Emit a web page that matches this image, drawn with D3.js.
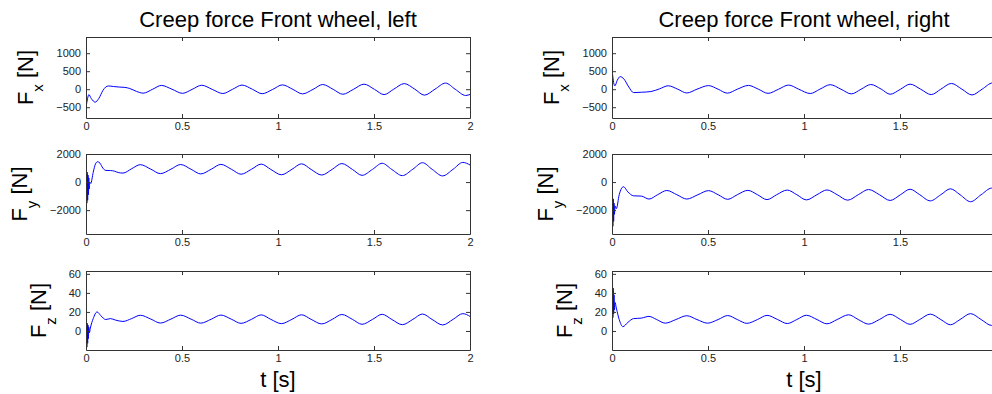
<!DOCTYPE html>
<html><head><meta charset="utf-8">
<script src="https://cdn.jsdelivr.net/npm/d3@7"></script>
<style>
html,body{margin:0;padding:0;background:#fff;overflow:hidden;}
svg{display:block;font-family:"Liberation Sans",Arial,Helvetica,sans-serif;}
</style></head><body>
<svg id="chart" width="992" height="394"></svg>
<script>
// ---------- data ----------
const titles = ["Creep force Front wheel, left", "Creep force Front wheel, right"];
const xLabel = "t [s]";
const yComponents = ["x", "y", "z"];
const yUnit = "[N]";
const xDomain = [0, 2];
const xTicks = [0, 0.5, 1, 1.5, 2];
const yTicksFx = [-500, 0, 500, 1000];
const yTicksFy = [-2000, 0, 2000];
const yTicksFz = [0, 20, 40, 60];
const yDomainFx = [-800, 1450];
const yDomainFy = [-3700, 2000];
const yDomainFz = [-20, 63];

// [t (s), force (N)]
const leftFx = [[0,-420],[0.006,-250],[0.012,-150],[0.025,-260],[0.045,-360],[0.065,-250],[0.085,-40],[0.1,60],[0.115,90],[0.14,75],[0.17,60],[0.2,50],[0.225,20],[0.26,-60],[0.295,-110],[0.345,0],[0.39,105],[0.445,0],[0.5,-115],[0.55,-5],[0.6,110],[0.655,-5],[0.71,-120],[0.76,-5],[0.81,115],[0.865,-5],[0.915,-125],[0.97,-5],[1.02,120],[1.075,-5],[1.125,-130],[1.18,-5],[1.23,130],[1.285,-5],[1.335,-140],[1.39,-5],[1.445,140],[1.5,-5],[1.55,-150],[1.6,0],[1.655,155],[1.71,0],[1.76,-165],[1.815,0],[1.87,170],[1.92,0],[1.975,-175],[2.0,-140]];
const leftFy = [[0,900],[0.002,-1500],[0.004,700],[0.006,-1300],[0.008,500],[0.010,-900],[0.012,300],[0.014,-500],[0.017,0],[0.022,-100],[0.035,700],[0.047,1300],[0.058,1450],[0.07,1350],[0.085,1000],[0.1,830],[0.125,820],[0.145,780],[0.165,680],[0.19,640],[0.235,950],[0.28,1240],[0.335,920],[0.385,600],[0.44,920],[0.49,1250],[0.545,910],[0.595,580],[0.65,920],[0.70,1260],[0.755,910],[0.805,560],[0.86,920],[0.91,1280],[0.96,900],[1.015,520],[1.07,910],[1.12,1300],[1.17,900],[1.225,500],[1.28,910],[1.33,1320],[1.385,900],[1.435,480],[1.49,910],[1.54,1340],[1.59,900],[1.645,460],[1.70,920],[1.75,1380],[1.80,910],[1.855,440],[1.91,920],[1.96,1400],[2.0,1200]];
const leftFz = [[0,11],[0.002,-17],[0.004,8],[0.006,-13],[0.008,6],[0.010,-8],[0.012,4],[0.015,-2],[0.02,3],[0.035,13],[0.055,20],[0.075,16],[0.1,12],[0.125,13],[0.15,11.5],[0.19,10],[0.235,13],[0.28,16.5],[0.335,12.5],[0.385,8.3],[0.44,12.5],[0.49,16.6],[0.545,12.4],[0.595,8.2],[0.65,12.4],[0.70,16.7],[0.755,12.3],[0.805,8],[0.86,12.3],[0.91,16.9],[0.96,12.2],[1.015,7.7],[1.07,12.2],[1.12,17],[1.17,12.2],[1.225,7.4],[1.28,12.2],[1.33,17.3],[1.385,12.2],[1.435,7],[1.49,12.2],[1.54,17.5],[1.59,12.1],[1.645,6.6],[1.70,12.2],[1.75,17.8],[1.80,12.1],[1.855,6.3],[1.91,12.3],[1.96,18.2],[2.0,15]];
const rightFx = [[0,430],[0.004,250],[0.012,90],[0.025,250],[0.04,350],[0.06,280],[0.085,60],[0.11,-95],[0.15,-85],[0.2,-65],[0.245,10],[0.29,95],[0.34,0],[0.387,-105],[0.44,0],[0.5,100],[0.55,0],[0.598,-110],[0.65,0],[0.708,105],[0.76,0],[0.81,-115],[0.865,0],[0.917,115],[0.97,0],[1.03,-120],[1.08,0],[1.134,125],[1.19,0],[1.244,-130],[1.295,0],[1.345,130],[1.4,0],[1.446,-140],[1.5,0],[1.55,140],[1.605,0],[1.66,-150],[1.71,0],[1.765,160],[1.82,0],[1.872,-160],[1.925,0],[1.98,175],[2.0,160]];
const rightFy = [[0,-800],[0.002,-3150],[0.004,-1200],[0.006,-2800],[0.008,-1500],[0.010,-2300],[0.013,-1700],[0.02,-1900],[0.035,-900],[0.057,-330],[0.08,-700],[0.11,-980],[0.15,-1000],[0.19,-1210],[0.235,-900],[0.283,-600],[0.335,-900],[0.387,-1210],[0.445,-900],[0.5,-610],[0.55,-900],[0.6,-1230],[0.65,-900],[0.705,-590],[0.755,-900],[0.805,-1250],[0.855,-900],[0.91,-570],[0.96,-900],[1.01,-1270],[1.065,-900],[1.117,-560],[1.17,-900],[1.225,-1290],[1.28,-900],[1.334,-530],[1.39,-900],[1.446,-1310],[1.5,-900],[1.55,-510],[1.6,-900],[1.655,-1340],[1.71,-900],[1.76,-480],[1.81,-900],[1.865,-1400],[1.92,-900],[1.975,-430],[2.0,-480]];
const rightFz = [[0,55],[0.002,14],[0.004,45],[0.006,18],[0.008,38],[0.010,22],[0.013,30],[0.02,24],[0.035,12],[0.054,4.5],[0.08,9],[0.11,13],[0.15,13.5],[0.19,15.3],[0.23,12],[0.275,8.2],[0.33,12],[0.387,16],[0.44,12],[0.495,8.2],[0.55,12],[0.6,16.2],[0.65,12],[0.7,8],[0.755,12],[0.805,16.4],[0.86,12],[0.91,7.8],[0.96,12],[1.01,16.5],[1.065,12],[1.117,7.5],[1.17,12],[1.23,17],[1.28,12],[1.334,7.2],[1.39,12],[1.446,17.5],[1.5,12],[1.55,7],[1.6,12],[1.655,17.7],[1.71,12],[1.76,6.5],[1.81,12],[1.865,18.2],[1.92,12],[1.975,5.8],[2.0,6.5]];

// ---------- layout ----------
const W = 992;
const svg = d3.select("#chart");
const cols = [{x0: 86, x1: 470}, {x0: 612, x1: 996}];
const rows = [
  {y0: 37, y1: 118, domain: yDomainFx, ticks: yTicksFx, labelOff: 53},
  {y0: 154, y1: 234, domain: yDomainFy, ticks: yTicksFy, labelOff: 59},
  {y0: 271, y1: 350, domain: yDomainFz, ticks: yTicksFz, labelOff: 40}
];
const series = [[leftFx, leftFy, leftFz], [rightFx, rightFy, rightFz]];
const axisColor = "#333";
const textColor = "#222";

cols.forEach((c, ci) => {
  const x = d3.scaleLinear().domain(xDomain).range([c.x0 + 0.5, c.x1 + 0.5]);
  const xa = d3.scaleLinear().domain(xDomain).range([c.x0, c.x1]);
  // tick labels only where they fit inside the picture
  const labelled = xTicks.filter(v => xa(v) + 6 < W);
  rows.forEach((r, ri) => {
    const y = d3.scaleLinear().domain(r.domain).range([r.y1, r.y0]);
    const g = svg.append("g");
    const clipId = `clip-${ci}-${ri}`;
    svg.append("clipPath").attr("id", clipId).append("rect")
      .attr("x", c.x0).attr("y", r.y0).attr("width", c.x1 - c.x0).attr("height", r.y1 - r.y0 + 1);

    const styleAxis = sel => {
      sel.selectAll("path,line").attr("stroke", axisColor);
      sel.selectAll("text").attr("fill", textColor).attr("font-size", 11)
        .attr("font-family", '"Liberation Sans",Arial,Helvetica,sans-serif');
    };
    const fmt = d3.format("");
    g.append("g").attr("transform", `translate(0,${r.y1})`)
      .call(d3.axisBottom(xa).tickValues(xTicks).tickFormat(v => labelled.includes(v) ? fmt(v) : "")
        .tickSizeInner(-4).tickSizeOuter(0).tickPadding(4))
      .call(styleAxis);
    g.append("g").attr("transform", `translate(0,${r.y0})`)
      .call(d3.axisTop(xa).tickValues(xTicks).tickFormat("").tickSizeInner(-4).tickSizeOuter(0))
      .call(styleAxis);

    const line = d3.line().x(d => x(d[0])).y(d => y(d[1])).curve(d3.curveMonotoneX);
    g.append("path").datum(series[ci][ri])
      .attr("clip-path", `url(#${clipId})`)
      .attr("fill", "none").attr("stroke", "#0000ff").attr("stroke-width", 1)
      .attr("d", line);

    g.append("g").attr("transform", `translate(${c.x0},0)`)
      .call(d3.axisLeft(y).tickValues(r.ticks).tickFormat(fmt).tickSizeInner(-4).tickSizeOuter(0).tickPadding(5))
      .call(styleAxis);
    g.append("g").attr("transform", `translate(${c.x1},0)`)
      .call(d3.axisRight(y).tickValues(r.ticks).tickFormat("").tickSizeInner(-4).tickSizeOuter(0))
      .call(styleAxis);

    // y label
    const cy = (r.y0 + r.y1) / 2;
    const t = g.append("text")
      .attr("transform", `translate(${c.x0 - r.labelOff},${cy}) rotate(-90)`)
      .attr("text-anchor", "middle").attr("font-size", 22).attr("fill", "#000");
    t.append("tspan").text("F");
    t.append("tspan").attr("font-size", 15).attr("dy", 10).text(yComponents[ri]);
    t.append("tspan").attr("dy", -10).text("\u00a0" + yUnit);
  });
  const cx = (c.x0 + c.x1) / 2;
  svg.append("text").attr("x", cx).attr("y", 27).attr("text-anchor", "middle")
    .attr("font-size", 22).attr("fill", "#000").text(titles[ci]);
  svg.append("text").attr("x", cx).attr("y", 387).attr("text-anchor", "middle")
    .attr("font-size", 22).attr("fill", "#000").text(xLabel);
});
</script>
</body></html>
